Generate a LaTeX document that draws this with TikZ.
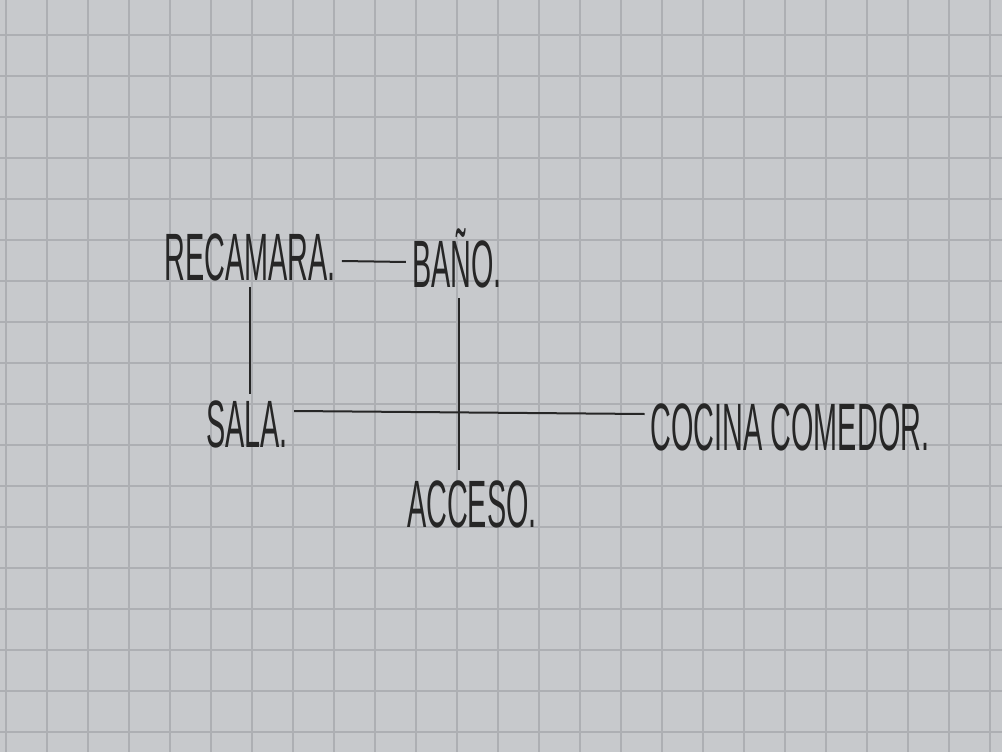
\documentclass[tikz,border=0pt]{standalone}
\usepackage{fontspec}
\newfontfamily\hand[FakeStretch=0.43]{Liberation Sans}
\definecolor{paper}{HTML}{C7C9CC}
\definecolor{gridc}{HTML}{ADAFB3}
\definecolor{ink}{HTML}{262626}
\begin{document}
\begin{tikzpicture}[x=1pt,y=-1pt,
  room/.style={font=\hand\fontsize{67}{67}\selectfont, text=ink, inner sep=6pt},
  link/.style={draw=ink, line width=2pt}]
\fill[paper] (0,0) rectangle (1002,752);
\useasboundingbox (0,0) rectangle (1002,752);
\foreach \i in {0,...,24} {\draw[gridc, line width=1.1pt] (6+41*\i,0) -- (6+41*\i,752);}
\foreach \j in {0,...,18} {\draw[gridc, line width=1.1pt] (0,-6+41*\j) -- (1002,-6+41*\j);}
\node[room] (rec) at (250,257) {RECAMARA.};
\node[room] (bano) at (457,258) {BAÑO.};
\node[room] (sala) at (247,424) {SALA.};
\node[room] (coc) at (790,427) {COCINA COMEDOR.};
\node[room] (acc) at (472,504) {ACCESO.};
\draw[link] ([yshift=-4pt]rec.east) -- ([yshift=-4pt]bano.west);
\draw[link] (rec.south) -- (rec.south |- sala.north);
\draw[link] ([yshift=13pt]sala.east) -- ([yshift=13pt]coc.west);
\coordinate (banoBot) at (459,298);
\coordinate (accTop) at (459,470);
\draw[link] (banoBot) -- (accTop);
\end{tikzpicture}
\end{document}
